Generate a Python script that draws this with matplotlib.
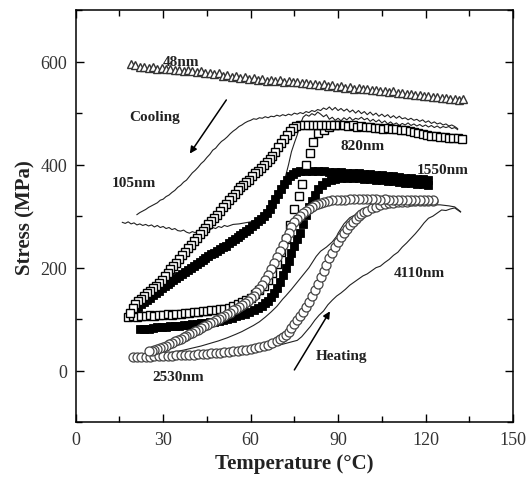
import numpy as np
import matplotlib
matplotlib.use("Agg")
import matplotlib.pyplot as plt
from matplotlib.ticker import MultipleLocator

# ---------------------------------------------------------------------------
# Data: (temperature degC, stress MPa)
# ---------------------------------------------------------------------------
NM48 = [(19, 595), (20.5, 593), (22, 589), (23.5, 590), (25, 588), (26.5, 589), (28, 586),
        (29.5, 587), (31, 585), (32.5, 586), (34, 583), (35.5, 584), (37, 582), (38.5, 583),
        (40, 581), (41.5, 579), (43, 581), (44.5, 577), (46, 578), (47.5, 575), (49, 577),
        (50.5, 573), (52, 574), (53.5, 570), (55, 572), (56.5, 569), (58, 570), (59.5, 567),
        (61, 568), (62.5, 565), (64, 566), (65.5, 563), (67, 565), (68.5, 562), (70, 564),
        (71.5, 561), (73, 562), (74.5, 560), (76, 561), (77.5, 558), (79, 559), (80.5, 556),
        (82, 557), (83.5, 555), (85, 556), (86.5, 553), (88, 554), (89.5, 551), (91, 552),
        (92.5, 549), (94, 550), (95.5, 547), (97, 548), (98.5, 546), (100, 547), (101.5, 544),
        (103, 545), (104.5, 542), (106, 543), (107.5, 541), (109, 542), (110.5, 539), (112, 540),
        (113.5, 537), (115, 538), (116.5, 535), (118, 536), (119.5, 533), (121, 534), (122.5, 531),
        (124, 532), (125.5, 530), (127, 530), (128.5, 528), (130, 528), (131.5, 526), (133, 527)]

NM105_HEAT = [(16, 288), (17, 286), (18, 289), (19, 285), (20, 287), (21, 283), (22, 285), (23, 282),
              (24, 284), (25, 281), (26, 283), (27, 279), (28, 282), (29, 278), (30, 280), (31, 276),
              (32, 278), (33, 274), (34, 276), (35, 272), (36, 271), (37, 273), (38, 269), (39, 267),
              (40, 270), (41, 268), (42, 272), (43, 270), (44, 274), (45, 276), (46, 273), (47, 278),
              (48, 276), (49, 280), (50, 278), (51, 282), (52, 280), (54, 284), (56, 285), (58, 287),
              (60, 289), (62, 292), (64, 296), (66, 302), (67, 310), (68, 322), (69, 334), (70, 346),
              (71, 360), (72, 378), (73, 400), (74, 425), (75, 442), (76, 458), (77, 478), (78, 492),
              (79, 497), (80, 494), (81, 499), (82, 496), (83, 502), (84, 498), (85, 493), (86, 497),
              (87, 488), (88, 492), (89, 486), (90, 490), (91, 485), (92, 491), (93, 487), (94, 492),
              (95, 486), (96, 490), (97, 488), (98, 492), (99, 487), (100, 490), (101, 484), (102, 488),
              (103, 483), (104, 487), (105, 481), (106, 485), (107, 479), (108, 483), (109, 478),
              (110, 481), (111, 476), (112, 480), (113, 477), (114, 481), (115, 476), (116, 479),
              (117, 475), (118, 478), (119, 474), (120, 477), (121, 473), (122, 476), (123, 472),
              (124, 475), (125, 471), (126, 474), (127, 472), (128, 474), (129, 470), (130, 472),
              (131, 468)]
NM105_COOL = [(131, 470), (130, 474), (129, 477), (128, 475), (127, 479), (126, 477), (125, 481),
              (124, 479), (123, 483), (122, 480), (121, 485), (120, 482), (119, 487), (118, 484),
              (117, 488), (116, 486), (115, 490), (114, 487), (113, 491), (112, 489), (111, 494),
              (110, 490), (109, 495), (108, 491), (107, 497), (106, 493), (105, 498), (104, 494),
              (103, 500), (102, 496), (101, 502), (100, 497), (99, 503), (98, 499), (97, 505),
              (96, 500), (95, 506), (94, 502), (93, 508), (92, 504), (91, 509), (90, 505), (89, 511),
              (88, 506), (87, 512), (86, 507), (85, 510), (84, 505), (83, 507), (82, 503), (81, 505),
              (80, 501), (79, 503), (78, 499), (77, 501), (76, 498), (75, 500), (74, 496), (73, 498),
              (72, 495), (71, 497), (70, 494), (69, 496), (68, 493), (67, 494), (66, 491), (65, 493),
              (64, 490), (63, 491), (62, 488), (61, 489), (60, 486), (59, 484), (58, 481), (57, 477),
              (56, 474), (55, 469), (54, 465), (53, 460), (52, 454), (51, 449), (50, 445), (49, 439),
              (48, 432), (47, 428), (46, 420), (45, 414), (44, 407), (43, 402), (42, 395), (41, 389),
              (40, 384), (39, 377), (38, 370), (37, 366), (36, 360), (35, 356), (34, 350), (33, 346),
              (32, 341), (31, 338), (30, 333), (29, 331), (28, 326), (27, 323), (26, 320), (25, 317),
              (24, 313), (23, 310), (22, 307), (21, 303)]

NM820_HEAT = [(18, 105), (19.5, 106), (21, 105), (22.5, 107), (24, 106), (25.5, 108), (27, 107),
              (28.5, 109), (30, 108), (31.5, 110), (33, 109), (34.5, 111), (36, 111), (37.5, 112),
              (39, 112), (40.5, 114), (42, 114), (43.5, 115), (45, 116), (46.5, 117), (48, 118),
              (49.5, 119), (51, 120), (52.5, 122), (54, 125), (55.5, 129), (57, 133), (58.5, 137),
              (60, 142), (61.5, 148), (63, 156), (64.5, 165), (66, 176), (67.5, 190), (69, 208),
              (70.5, 230), (72, 255), (73.5, 283), (75, 313), (76.5, 340), (77.5, 362), (79, 399),
              (80.3, 423), (81.3, 443), (83, 461), (85, 468), (87, 473), (89, 477), (90.5, 476),
              (92, 477), (93.5, 475), (95, 476), (96.5, 474), (98, 475), (99.5, 473), (101, 474),
              (102.5, 472), (104, 472), (105.5, 470), (107, 471), (108.5, 469), (110, 469),
              (111.5, 467), (113, 467), (114.5, 465), (116, 464), (117.5, 462), (119, 460),
              (120.5, 457), (122, 456), (123.5, 455), (125, 454), (126.5, 453), (128, 452),
              (129.5, 451), (131, 451), (132.5, 450)]
NM820_COOL = [(89, 476), (87.5, 477), (86, 477), (84.5, 476), (83, 477), (81.5, 476), (80, 477),
              (78.5, 476), (77, 476), (75.5, 475), (74.5, 472), (73.5, 466), (72.5, 458), (71.5, 450),
              (70.5, 442), (69.5, 434), (68.5, 425), (67.5, 417), (66.5, 411), (65.5, 405), (64.5, 399),
              (63.5, 393), (62.5, 388), (61.5, 383), (60.5, 377), (59.5, 371), (58.5, 366), (57.5, 361),
              (56.5, 356), (55.5, 350), (54.5, 343), (53.5, 337), (52.5, 331), (51.5, 324), (50.5, 317),
              (49.5, 310), (48.5, 303), (47.5, 296), (46.5, 290), (45.5, 284), (44.5, 278), (43.5, 272),
              (42.5, 265), (41.5, 258), (40.5, 252), (39.5, 245), (38.5, 238), (37.5, 231), (36.5, 224),
              (35.5, 217), (34.5, 210), (33.5, 203), (32.5, 197), (31.5, 190), (30.5, 183), (29.5, 177),
              (28.5, 171), (27.5, 165), (26.5, 160), (25.5, 155), (24.5, 150), (23.5, 145), (22.5, 140),
              (21.5, 135), (20.5, 129), (19.5, 121), (18.5, 113)]

NM1550_HEAT = [(22, 81), (23.5, 82), (25, 82), (26.5, 83), (28, 84), (29.5, 84), (31, 85), (32.5, 86),
               (34, 86), (35.5, 87), (37, 88), (38.5, 89), (40, 90), (41.5, 91), (43, 92), (44.5, 93),
               (46, 94), (47.5, 95), (49, 97), (50.5, 99), (52, 101), (53.5, 103), (55, 106), (56.5, 108),
               (58, 111), (59.5, 114), (61, 117), (62.5, 121), (64, 126), (65, 131), (66, 136), (67, 143),
               (68, 151), (69, 161), (70, 173), (71, 186), (72, 199), (73, 213), (74, 229), (75, 243),
               (76, 256), (77, 268), (78, 285), (79, 302), (80, 318), (81, 330), (82, 342), (83, 352),
               (84.5, 360), (86, 366), (87.5, 370), (89, 373), (91, 375), (93, 375), (95, 375),
               (97, 374), (99, 373), (101, 372), (103, 371), (105, 370), (107, 369), (109, 368),
               (111, 366), (113, 365), (115, 364), (117, 363), (119, 362), (121, 361)]
NM1550_COOL = [(121, 370), (119, 372), (117, 373), (115, 374), (113, 375), (111, 376), (109, 377),
               (107, 378), (105, 379), (103, 380), (101, 381), (99, 382), (97, 383), (95, 384), (93, 384),
               (91, 385), (89, 386), (87, 386), (85, 387), (83, 387), (81, 388), (79, 388), (77, 387),
               (75.5, 385), (74.5, 382), (73.5, 377), (72.5, 370), (71.5, 362), (70.5, 353), (69.5, 343),
               (68.5, 333), (67.5, 323), (66.5, 314), (65.5, 306), (64.5, 300), (63.5, 295), (62.5, 290),
               (61.5, 285), (60.5, 280), (59.5, 276), (58.5, 272), (57.5, 268), (56.5, 264), (55.5, 260),
               (54.5, 255), (53.5, 251), (52.5, 247), (51.5, 243), (50.5, 240), (49.5, 236), (48.5, 233),
               (47.5, 229), (46.5, 226), (45.5, 222), (44.5, 218), (43.5, 214), (42.5, 211), (41.5, 207),
               (40.5, 204), (39.5, 200), (38.5, 196), (37.5, 192), (36.5, 188), (35.5, 184), (34.5, 180),
               (33.5, 176), (32.5, 172), (31.5, 168), (30.5, 164), (29.5, 160), (28.5, 155), (27.5, 151),
               (26.5, 147), (25.5, 142), (24.5, 138), (23.5, 133), (22.5, 129), (21.5, 124), (20.5, 118),
               (20, 113)]

NM2530_HEAT = [(19.6, 26), (21, 26), (22.5, 27), (24, 27), (25.5, 27), (27, 28), (28.5, 28), (30, 28),
               (31.5, 29), (33, 29), (34.5, 30), (36, 30), (37.5, 30), (39, 31), (40.5, 31), (42, 32),
               (43.5, 32), (45, 33), (46.5, 34), (48, 34), (49.5, 35), (51, 36), (52.5, 37), (54, 38),
               (55.5, 39), (57, 40), (58.5, 41), (60, 42), (61.5, 44), (63, 46), (64.5, 48), (66, 50),
               (67.5, 53), (69, 57), (70, 61), (71, 65), (72, 70), (73, 76), (74, 83), (75, 91), (76, 98),
               (77, 106), (78, 114), (79, 123), (80, 133), (81, 145), (82, 157), (83, 169), (84, 182),
               (85, 194), (86, 206), (87, 218), (88, 229), (89, 240), (90, 250), (91, 259), (92, 267),
               (93, 275), (94, 282), (95, 289), (96, 295), (97, 300), (98, 304), (99, 308), (100, 311),
               (101.5, 315), (103, 318), (104.5, 321), (106, 323), (107.5, 325), (109, 326), (110.5, 327),
               (112, 328), (113.5, 328), (115, 329), (116.5, 329), (118, 329), (119.5, 330), (121, 330),
               (122.5, 330)]
NM2530_COOL = [(122.5, 331), (121, 332), (119.5, 331), (118, 332), (116.5, 332), (115, 331),
               (113.5, 332), (112, 332), (110.5, 331), (109, 332), (107.5, 332), (106, 333), (104.5, 332),
               (103, 333), (101.5, 333), (100, 334), (98.5, 333), (97, 334), (95.5, 333), (94, 333),
               (92.5, 332), (91, 332), (89.5, 331), (88, 331), (86.5, 330), (85, 328), (84, 326), (83, 324),
               (82, 321), (81, 318), (80, 314), (79, 310), (78, 306), (77, 301), (76, 295), (75, 288),
               (74, 279), (73, 268), (72, 257), (71, 245), (70, 233), (69, 221), (68, 209), (67, 197),
               (66, 186), (65, 176), (64, 167), (63, 159), (62, 152), (61, 146), (60, 141), (59, 136),
               (58, 132), (57, 128), (56, 124), (55, 120), (54, 117), (53, 113), (52, 110), (51, 107),
               (50, 104), (49, 101), (48, 98), (47, 95), (46, 92), (45, 89), (44, 86), (43, 83), (42, 80),
               (41, 77), (40, 74), (39, 71), (38, 68), (37, 65), (36, 62), (35, 60), (34, 57), (33, 54),
               (32, 52), (31, 49), (30, 47), (29, 45), (28, 43), (27, 41), (26, 39), (25, 38)]

NM4110_HEAT = [(19, 27), (21, 25), (23, 27), (25, 26), (28, 28), (31, 27), (34, 29), (37, 28), (40, 30),
               (43, 31), (46, 31), (49, 33), (52, 34), (55, 36), (58, 37), (61, 40), (64, 43), (67, 46),
               (70, 50), (72, 53), (74, 56), (76, 59), (77.5, 66), (79, 76), (80.5, 86), (82, 98),
               (83.5, 108), (85, 116), (86.5, 128), (88, 137), (89.5, 145), (91, 151), (92.5, 158),
               (94, 166), (95.5, 172), (97, 178), (98.5, 184), (100, 188), (101.5, 194), (103, 200),
               (104.5, 203), (106, 210), (107.5, 216), (109, 224), (110.5, 230), (112, 240), (113.5, 248),
               (115, 257), (116.5, 266), (118, 276), (119.5, 287), (121, 296), (122.5, 300), (124, 306),
               (125.5, 312), (127, 311), (128.5, 314), (130, 316), (131, 312), (132, 308)]
NM4110_COOL = [(132, 309), (130, 318), (128, 320), (125, 322), (122, 322), (118, 321), (114, 320),
               (110, 319), (106, 317), (102, 315), (100.8, 313), (98, 308), (96, 303), (94, 297),
               (92, 285), (90, 267), (89.5, 261), (88, 250), (86, 240), (84, 232), (82.5, 222), (80, 200),
               (78, 186), (76, 172), (74, 158), (72, 145), (71, 139), (69, 125), (67, 114), (65, 104),
               (63, 95), (61, 88), (59, 82), (57, 76), (55, 71), (52, 64), (49, 58), (46, 53), (43, 48),
               (40, 44), (37, 40), (34, 37), (31, 34), (28, 32), (25, 30), (22, 29), (20, 28)]

# text labels: (text, T, S)
LABELS = [("48nm", 36, 601), ("Cooling", 27.2, 493), ("105nm", 20, 365), ("820nm", 98.5, 438),
          ("1550nm", 126, 391), ("4110nm", 118, 191), ("Heating", 91.3, 29), ("2530nm", 35.1, -11)]


def xy(pairs):
    a = np.array(pairs, dtype=float)
    return a[:, 0], a[:, 1]


plt.rcParams["font.family"] = ["Liberation Serif", "DejaVu Serif"]
fig = plt.figure(figsize=(5.29, 4.81), dpi=100)
ax = fig.add_axes([0.1431, 0.12, 0.8267, 0.857])

# thin lines first (105nm, 4110nm)
for d in (NM105_HEAT, NM105_COOL, NM4110_HEAT, NM4110_COOL):
    ax.plot(*xy(d), "-", color="#222222", lw=0.8, zorder=2)

# 1550nm filled squares
for d in (NM1550_HEAT, NM1550_COOL):
    ax.plot(*xy(d), "s", ms=5.5, mfc="black", mec="black", mew=0.6, ls="none", zorder=3)

# 820nm open squares
for d in (NM820_HEAT, NM820_COOL):
    ax.plot(*xy(d), "s", ms=5.2, mfc="white", mec="black", mew=1.0, ls="none", zorder=4)

# 2530nm open circles
for d in (NM2530_HEAT, NM2530_COOL):
    ax.plot(*xy(d), "o", ms=6.5, mfc="white", mec="#444444", mew=0.9, ls="none", zorder=5)

# 48nm open triangles
ax.plot(*xy(NM48), "^", ms=6, mfc="white", mec="#333333", mew=1.0, ls="none", zorder=5)

for txt, t, s in LABELS:
    ax.text(t, s, txt, fontsize=11, fontweight="bold", ha="center", va="center",
            color="#222222", zorder=6)

# cooling / heating arrows
ax.annotate("", xy=(38.6, 417), xytext=(52.2, 530),
            arrowprops=dict(arrowstyle="-|>", color="black", lw=1.1, mutation_scale=10))
ax.annotate("", xy=(87.7, 120), xytext=(74.5, -3),
            arrowprops=dict(arrowstyle="-|>", color="black", lw=1.1, mutation_scale=10))

ax.set_xlim(0, 150)
ax.set_ylim(-100, 700)
ax.xaxis.set_major_locator(MultipleLocator(30))
ax.xaxis.set_minor_locator(MultipleLocator(15))
ax.yaxis.set_major_locator(MultipleLocator(200))
ax.yaxis.set_minor_locator(MultipleLocator(100))
ax.tick_params(which="both", direction="in", top=True, right=True, width=1.0,
               labelsize=13, labelcolor="#333333", pad=6)
ax.tick_params(which="major", length=6)
ax.tick_params(which="minor", length=4)
for sp in ax.spines.values():
    sp.set_linewidth(1.1)

ax.set_xlabel("Temperature (\u00b0C)", fontsize=15, fontweight="bold", color="#222222")
ax.set_ylabel("Stress (MPa)", fontsize=15, fontweight="bold", color="#222222")

fig.savefig("out.png", dpi=100, facecolor="white")
